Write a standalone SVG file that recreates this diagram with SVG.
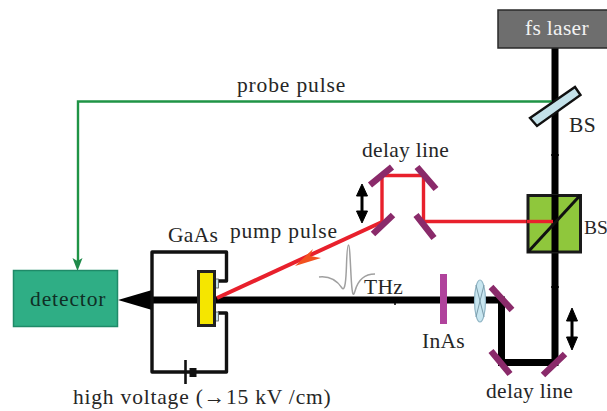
<svg xmlns="http://www.w3.org/2000/svg" width="607" height="411" viewBox="0 0 607 411">
<style>
text{font-family:"Liberation Serif","Times New Roman",serif;font-size:21.500px;letter-spacing:.3px;fill:#262626}
.beam{fill:none;stroke:#000;stroke-width:7;stroke-linejoin:miter}
.red{fill:none;stroke:#e8202c;stroke-width:3.400}
.mirror{stroke:#8a2a6a;stroke-width:6.500;fill:none}
.wire{fill:none;stroke:#111;stroke-width:3.400;stroke-linejoin:round}
.dbl{fill:#000;stroke:#000;stroke-width:1}
</style>
<rect width="607" height="411" fill="#fff"/>
<g id="connectors">
<path class="beam" d="M555 48V362.500H501.500V300H140"/>
<path d="M552 101.500H78V264" fill="none" stroke="#1f9446" stroke-width="2.400"/>
<path d="M77.500 271L72.500 258L77.500 261L82.500 258Z" fill="#1f8a4a"/>
<path class="red" d="M553 221.500H423.500V175.500H382V222"/>
<path d="M382 222L217 298" fill="none" stroke="#e8202c" stroke-width="4"/>
<path d="M295 266L313 249L310 256L321 258Z" fill="#f2511f"/>
<path d="M118 300L152 290V310Z" fill="#000"/>
<path d="M319 277C328 276 336 279 342 288C345 292 346 280 346.500 265C347 250 347.500 245 348.500 245C349.500 245 350 255 351 275C352 294 353 298 355 291C358 280 364 274 375 274" fill="none" stroke="#a0a0a0" stroke-width="1.500"/>
<path class="dbl" d="M362 184L356.500 196H361V211H356.500L362 223L367.500 211H363V196H367.500Z"/>
<path class="dbl" d="M572 308L566.500 321H571V337H566.500L572 350L577.500 337H573V321H577.500Z"/>
<path d="M551 155H559M395 297V305M551 287H559" stroke="#000" stroke-width="1.500" fill="none"/>
</g>
<g id="fs-laser">
<rect x="498" y="10" width="112" height="38" fill="#6e6e6e" stroke="#2a2a2a" stroke-width="1.500"/>
<text x="525" y="35" style="fill:#f2f2f2">fs laser</text>
</g>
<g id="bs-plate">
<path d="M530 118L575 87L580.500 95L537 126Z" fill="#c4e2ea" stroke="#111" stroke-width="2.400"/>
<text x="569" y="132">BS</text>
</g>
<g id="bs-cube">
<rect x="528" y="195.500" width="52.500" height="56.500" fill="#8fc73c" stroke="#1a1a1a" stroke-width="3"/>
<path d="M555 195V252" class="beam"/>
<path d="M528 252L580 195.500" stroke="#111" stroke-width="3" fill="none"/>
<path d="M527 221.500H553" stroke="#e8202c" stroke-width="3.400"/>
<text x="584" y="234" style="font-size:19.500px;letter-spacing:0">BS</text>
</g>
<g id="upper-delay-line">
<path class="mirror" d="M370 185L392 167M417 167L436 189M373 234L393 215M416 215L434 238"/>
<text x="362" y="157">delay line</text>
</g>
<g id="lower-delay-line">
<path class="mirror" d="M491 287L512 310M491 351L510 374M543 375L565 354"/>
<text x="486" y="398">delay line</text>
</g>
<g id="inas">
<rect x="440" y="274" width="7" height="50" fill="#b0439c"/>
<text x="422" y="348">InAs</text>
</g>
<g id="lens">
<ellipse cx="480" cy="301" rx="5.500" ry="21" fill="#c8e6f0" stroke="#8fb4c4" stroke-width="1.200"/>
<path d="M476 285L484 317M484 285L476 317" stroke="#7a9aa8" stroke-width="1"/>
</g>
<g id="detector">
<rect x="13.500" y="270.500" width="104" height="56" fill="#2fae85" stroke="#1f8a68" stroke-width="1.500"/>
<text x="30" y="306" style="fill:#0f2f25;letter-spacing:.9px">detector</text>
</g>
<g id="gaas">
<path class="wire" d="M218 281H226.500V252H152V372H226.500V313H218"/>
<path d="M185.500 360V384" stroke="#111" stroke-width="2.600"/>
<path d="M193 368V377" stroke="#111" stroke-width="7"/>
<rect x="214" y="279" width="4.500" height="9" fill="#c4e2ea" stroke="#555" stroke-width=".8"/>
<rect x="214" y="312" width="4.500" height="9" fill="#c4e2ea" stroke="#555" stroke-width=".8"/>
<rect x="198.500" y="271.500" width="16" height="54" fill="#f5e600" stroke="#222" stroke-width="3"/>
<text x="168" y="242">GaAs</text>
</g>
<g id="labels">
<text x="237" y="92" style="letter-spacing:.85px">probe pulse</text>
<text x="230" y="238" style="letter-spacing:.8px">pump pulse</text>
<text x="364" y="294">THz</text>
<text x="73" y="404" style="letter-spacing:.8px">high voltage (→15 kV /cm)</text>
</g>
</svg>
